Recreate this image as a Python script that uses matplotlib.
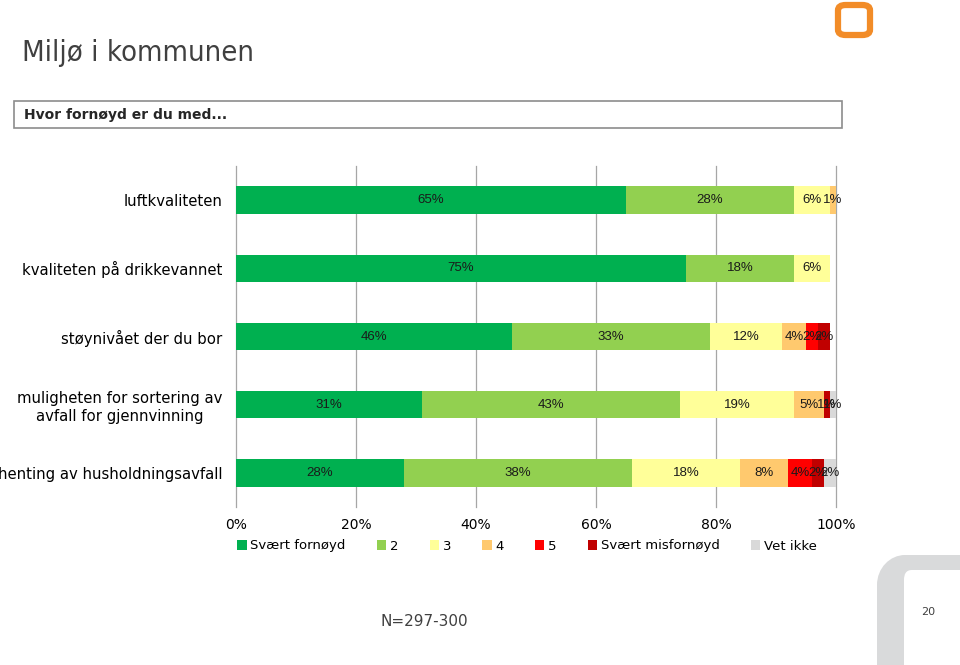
import matplotlib
matplotlib.use("Agg")
import matplotlib.pyplot as plt
from matplotlib.patches import Rectangle, FancyBboxPatch, PathPatch
from matplotlib.path import Path
import numpy as np

# Data
categories = [
    "luftkvaliteten",
    "kvaliteten på drikkevannet",
    "støynivået der du bor",
    "muligheten for sortering av\navfall for gjennvinning",
    "henting av husholdningsavfall",
]
series_names = ["Svært fornøyd", "2", "3", "4", "5", "Svært misfornøyd", "Vet ikke"]
svaert_fornoyd = [65, 75, 46, 31, 28]
verdi_2 = [28, 18, 33, 43, 38]
verdi_3 = [6, 6, 12, 19, 18]
verdi_4 = [1, 0, 4, 5, 8]
verdi_5 = [0.3, 0, 2, 0, 4]
svaert_misfornoyd = [0, 0, 2, 1, 2]
vet_ikke = [0, 0, 0, 1, 2]
x_ticks = [0, 20, 40, 60, 80, 100]

colors = ["#00B050", "#92D050", "#FFFF99", "#FFC96E", "#FF0000", "#C00000", "#D9D9D9"]
series = [svaert_fornoyd, verdi_2, verdi_3, verdi_4, verdi_5, svaert_misfornoyd, vet_ikke]

W, H = 960, 665
fig = plt.figure(figsize=(W / 100, H / 100), dpi=100)


def fx(px):
    return px / W


def fy(py):
    return 1 - py / H


# Title and question box
fig.text(fx(22), fy(53), "Miljø i kommunen", fontsize=21, color="#404040",
         family="DejaVu Sans", fontstretch="condensed", va="center")
fig.patches.append(Rectangle((fx(14), fy(128)), fx(828), 27 / H, transform=fig.transFigure,
                             facecolor="white", edgecolor="#8c8c8c", lw=1.2))
fig.text(fx(24), fy(115), "Hvor fornøyd er du med...", fontsize=10, weight="bold",
         color="#262626", va="center")

# Orange logo
fig.patches.append(FancyBboxPatch((fx(838), fy(35)), fx(32), 30 / H,
                                  boxstyle="round,pad=0,rounding_size=0.008",
                                  transform=fig.transFigure, facecolor="none",
                                  edgecolor="#F28C28", lw=4.5))

# Grey corner decoration
corner = [(877, 665), (877, 585), (877, 568), (890, 555), (905, 555), (960, 555),
          (960, 570), (912, 570), (906, 570), (904, 574), (904, 580), (904, 665), (877, 665)]
codes = [Path.MOVETO, Path.LINETO, Path.CURVE4, Path.CURVE4, Path.CURVE4, Path.LINETO,
         Path.LINETO, Path.LINETO, Path.CURVE4, Path.CURVE4, Path.CURVE4, Path.LINETO,
         Path.CLOSEPOLY]
corner_path = Path([(fx(a), fy(b)) for a, b in corner], codes)
fig.patches.append(PathPatch(corner_path, transform=fig.transFigure,
                             facecolor="#D9DADB", edgecolor="none"))
fig.text(fx(928), fy(612), "20", fontsize=8, color="#404040", ha="center", va="center")
fig.text(fx(424), fy(622), "N=297-300", fontsize=11, color="#404040", ha="center", va="center")

# Chart
ax = fig.add_axes([fx(236), fy(507), 600 / W, 341 / H])
y = np.arange(len(categories))
left = np.zeros(len(categories))
for name, vals, col in zip(series_names, series, colors):
    vals = np.array(vals, dtype=float)
    bars = ax.barh(y, vals, left=left, height=0.4, color=col, label=name, zorder=2)
    labels = [f"{v:.0f}%" if v >= 0.5 else "" for v in vals]
    ax.bar_label(bars, labels=labels, label_type="center", fontsize=9.5,
                 family="Liberation Sans", color="#1a1a1a")
    left += vals

ax.set_xlim(0, 100)
ax.set_ylim(len(categories) - 0.5, -0.5)
ax.set_yticks(y)
ax.set_yticklabels(categories, fontsize=10.7, ma="center")
ax.set_xticks(x_ticks)
ax.set_xticklabels([f"{t}%" for t in x_ticks], fontsize=10)
ax.tick_params(axis="both", length=0)
ax.tick_params(axis="y", pad=10)
ax.tick_params(axis="x", pad=8)
for s in ax.spines.values():
    s.set_visible(False)
ax.grid(axis="x", color="#A6A6A6", lw=0.9)
ax.set_axisbelow(True)
for gl in ax.get_xgridlines():
    gl.set_clip_on(False)

handles, labs = ax.get_legend_handles_labels()
fig.legend(handles, labs, loc="center", bbox_to_anchor=(fx(527), fy(546)), ncol=7,
           frameon=False, fontsize=9.5, handlelength=0.7, handleheight=0.7,
           handletextpad=0.3, columnspacing=2.35)

fig.savefig("out.png", dpi=100)
